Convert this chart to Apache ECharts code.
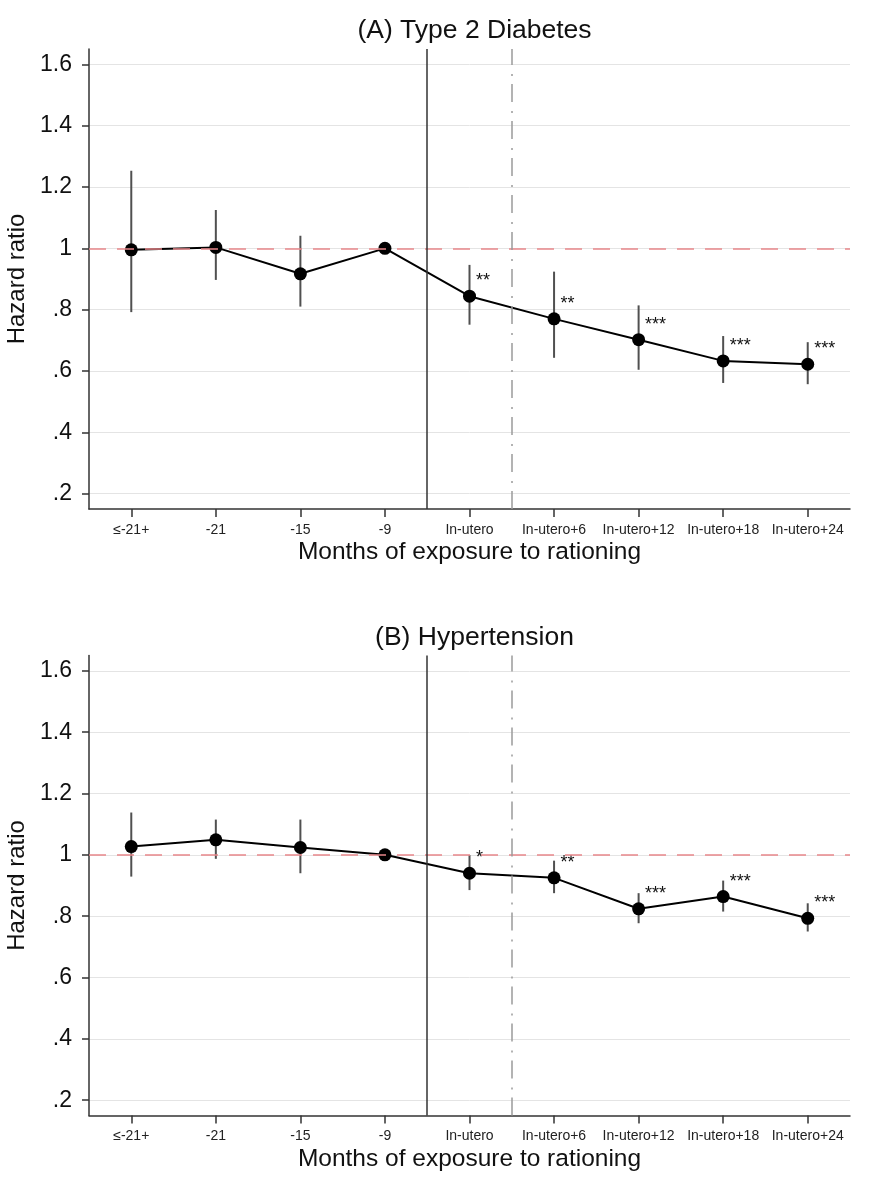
<!DOCTYPE html>
<html><head><meta charset="utf-8">
<script src="https://cdn.jsdelivr.net/npm/echarts@6/dist/echarts.min.js"></script>
<style>html,body{margin:0;padding:0;background:#fff}#c{width:870px;height:1192px}</style>
</head><body><div id="c"></div>
<script>
const categories = ['≤-21+','-21','-15','-9','In-utero','In-utero+6','In-utero+12','In-utero+18','In-utero+24'];
const yTicks = [0.2,0.4,0.6,0.8,1,1.2,1.4,1.6];
const yTickLabels = ['.2','.4','.6','.8','1','1.2','1.4','1.6'];
const diabetesHR   = [0.995,1.003,0.917,1.000,0.844,0.770,0.702,0.633,0.622];
const diabetesLow  = [0.792,0.897,0.810,null,0.751,0.643,0.604,0.561,0.557];
const diabetesHigh = [1.253,1.125,1.041,null,0.946,0.924,0.814,0.714,0.694];
const diabetesStars = ['','','','','**','**','***','***','***'];
const hyperHR   = [1.027,1.049,1.024,1.000,0.940,0.925,0.824,0.864,0.793];
const hyperLow  = [0.929,0.987,0.940,null,0.885,0.875,0.777,0.815,0.750];
const hyperHigh = [1.138,1.115,1.115,null,0.999,0.981,0.875,0.916,0.842];
const hyperStars = ['','','','','*','**','***','***','***'];
const panelTitles = ['(A) Type 2 Diabetes','(B) Hypertension'];
const xTitle = 'Months of exposure to rationing';
const yTitle = 'Hazard ratio';
const refY = 1;
const solidX = 3.5, dashX = 4.5;

const FONT = '"Liberation Sans", Arial, Helvetica, sans-serif';
const panels = [
  {hr: diabetesHR, low: diabetesLow, high: diabetesHigh, stars: diabetesStars, title: panelTitles[0]},
  {hr: hyperHR, low: hyperLow, high: hyperHigh, stars: hyperStars, title: panelTitles[1]}
];
const gridTops = [49, 655.5];
const titleTops = [12, 619];

const chart = echarts.init(document.getElementById('c'), null, {renderer:'canvas'});
const option = {animation:false, backgroundColor:'#fff', title:[], grid:[], xAxis:[], yAxis:[], series:[]};

panels.forEach((p, k) => {
  option.title.push({text:p.title, left:469.5, top:titleTops[k], textAlign:'center',
    textStyle:{fontFamily:FONT, fontSize:26.5, fontWeight:'normal', color:'#111'}});
  option.grid.push({left:89, right:20, top:gridTops[k], height:460, containLabel:false, outerBoundsMode:'none'});
  option.xAxis.push({
    type:'category', gridIndex:k, data:categories, boundaryGap:true,
    axisLine:{onZero:false, lineStyle:{color:'#333', width:1.5}},
    axisTick:{show:true, alignWithLabel:true, length:8, lineStyle:{color:'#333', width:1.5}},
    axisLabel:{fontFamily:FONT, fontSize:14, color:'#222', margin:14, interval:0},
    splitLine:{show:false},
    name:xTitle, nameLocation:'middle', nameGap:31,
    nameTextStyle:{fontFamily:FONT, fontSize:24.5, color:'#111'}
  });
  option.xAxis.push({type:'value', gridIndex:k, min:-0.5, max:8.5, show:false});
  option.yAxis.push({
    type:'value', gridIndex:k, min:0.15, max:1.65,
    axisLine:{show:true, onZero:false, lineStyle:{color:'#333', width:1.5}},
    axisTick:{show:true, length:7, customValues:yTicks, lineStyle:{color:'#333', width:1.5}},
    axisLabel:{customValues:yTicks, fontFamily:FONT, fontSize:23, color:'#111', margin:17,
      formatter:(v)=>{const i=yTicks.findIndex(t=>Math.abs(t-v)<1e-6); return i>=0?yTickLabels[i]:'';}},
    splitLine:{show:true, lineStyle:{color:'#e4e4e4', width:1}},
    name:yTitle, nameLocation:'middle', nameGap:53,
    nameTextStyle:{fontFamily:FONT, fontSize:24, color:'#111'}
  });
  const xCat = k*2, xVal = k*2+1;
  option.series.push({
    type:'line', xAxisIndex:xVal, yAxisIndex:k, data:[], z:1, silent:true,
    markLine:{symbol:'none', silent:true, label:{show:false}, animation:false,
      data:[
        {yAxis:refY, lineStyle:{color:'#e8868a', width:1.5, type:[17,11]}},
        {xAxis:solidX, lineStyle:{color:'#333', width:1.5, type:'solid'}},
        {xAxis:dashX, lineStyle:{color:'#9a9a9a', width:1.5, type:[18,8,2,9]}}
      ]}
  });
  const ci = [];
  p.low.forEach((l,i)=>{ if(l!=null && p.high[i]!=null) ci.push([i, l, p.high[i]]); });
  option.series.push({
    type:'custom', xAxisIndex:xCat, yAxisIndex:k, data:ci, z:2, silent:true,
    encode:{x:0, y:[1,2]},
    renderItem:(params, api)=>{
      const a = api.coord([api.value(0), api.value(1)]);
      const b = api.coord([api.value(0), api.value(2)]);
      return {type:'line', shape:{x1:a[0], y1:a[1], x2:b[0], y2:b[1]}, style:{stroke:'#505050', lineWidth:2}};
    }
  });
  option.series.push({
    type:'line', xAxisIndex:xCat, yAxisIndex:k, z:3,
    data:p.hr.map((v,i)=>({value:v, label:{formatter:p.stars[i]}})),
    symbol:'circle', symbolSize:13, itemStyle:{color:'#000'},
    lineStyle:{color:'#000', width:2},
    label:{show:true, position:'right', distance:0, offset:[0,-15],
      fontFamily:FONT, fontSize:18, color:'#111'}
  });
});
chart.setOption(option);
</script></body></html>
